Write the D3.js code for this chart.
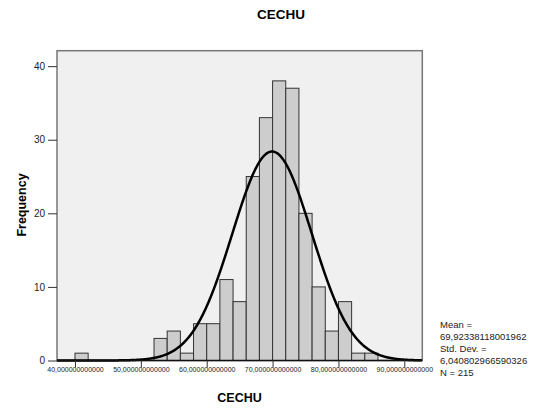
<!DOCTYPE html>
<html><head><meta charset="utf-8">
<script src="https://cdn.jsdelivr.net/npm/d3@7"></script>
<style>body{margin:0;background:#fff}svg{display:block}</style>
</head><body>
<script>
// Data
const binStarts = [40,52,54,56,58,60,62,64,66,68,70,72,74,76,78,80,82,84];
const counts    = [1, 3, 4, 1, 5, 5, 11,8, 25,33,38,37,20,10,4, 8, 1, 1];
const binWidth = [2];
const xTicks = [40,50,60,70,80,90];
const xTickLabels = ["40,000000000000","50,000000000000","60,000000000000","70,000000000000","80,000000000000","90,000000000000"];
const yTicks = [0,10,20,30,40];
const stats = [69.92338118001962, 6.0408029665903260, 215];
const statLabels = ["Mean =","69,92338118001962","Std. Dev. =","6,040802966590326","N = 215"];

const W=536,H=409;
const svg=d3.select("body").append("svg").attr("width",W).attr("height",H);
const L=57,R=422.3,T=50.7,B=360.5;
const x=d3.scaleLinear().domain([37.27,92.73]).range([L,R]);
const y=d3.scaleLinear().domain([0,42.1]).range([B,T]);

svg.append("rect").attr("x",L).attr("y",T).attr("width",R-L).attr("height",B-T)
  .attr("fill","#f0f0f0").attr("stroke","#777").attr("stroke-width",1.5);

// bars
svg.append("g").selectAll("rect").data(binStarts).join("rect")
  .attr("x",(d)=>x(d)).attr("width",(d)=>x(d+binWidth[0])-x(d))
  .attr("y",(d,i)=>y(counts[i])).attr("height",(d,i)=>y(0)-y(counts[i]))
  .attr("fill","#cdcdcd").attr("stroke","#333").attr("stroke-width",1);

// normal curve
const [mu,sd,n]=stats;
const pts=d3.range(x.invert(L),x.invert(R)+0.01,0.1).map(v=>[v,n*binWidth[0]*Math.exp(-0.5*((v-mu)/sd)**2)/(sd*Math.sqrt(2*Math.PI))]);
svg.append("path").datum(pts).attr("fill","none").attr("stroke","#000").attr("stroke-width",2.5)
  .attr("d",d3.line().x(d=>x(d[0])).y(d=>y(d[1])));

// baseline
svg.append("line").attr("x1",L).attr("x2",R).attr("y1",B).attr("y2",B).attr("stroke","#111").attr("stroke-width",1.5);

// x axis
const xa=svg.append("g").attr("transform",`translate(0,${B})`)
  .call(d3.axisBottom(x).tickValues(xTicks).tickSize(7).tickFormat((d,i)=>xTickLabels[i]));
xa.select(".domain").remove();
xa.selectAll("line").attr("stroke","#333");
xa.selectAll("text").attr("font-family","Arial, 'Liberation Sans'").attr("font-size","7px").attr("fill","#222").attr("dy","0.2em");

// y axis
const ya=svg.append("g").attr("transform",`translate(${L},0)`)
  .call(d3.axisLeft(y).tickValues(yTicks).tickSize(9).tickPadding(3));
ya.select(".domain").remove();
ya.selectAll("line").attr("stroke","#333");
ya.selectAll("text").attr("font-family","Arial, 'Liberation Sans'").attr("font-size","10px").attr("fill","#222");

// titles
svg.append("text").attr("x",281).attr("y",18.5).attr("text-anchor","middle")
  .attr("font-family","Arial, 'Liberation Sans'").attr("font-weight","bold").attr("font-size","13.5px").text("CECHU");
svg.append("text").attr("x",239.5).attr("y",402).attr("text-anchor","middle")
  .attr("font-family","Arial, 'Liberation Sans'").attr("font-weight","bold").attr("font-size","12.5px").text("CECHU");
svg.append("text").attr("transform","translate(26,205) rotate(-90)").attr("text-anchor","middle")
  .attr("font-family","Arial, 'Liberation Sans'").attr("font-weight","bold").attr("font-size","12.5px").text("Frequency");

// stats
svg.append("g").selectAll("text").data(statLabels).join("text")
  .attr("x",440).attr("y",(d,i)=>328+i*12)
  .attr("font-family","Arial, 'Liberation Sans'").attr("font-size","9.5px").attr("fill","#222").text(d=>d);
</script>
</body></html>
